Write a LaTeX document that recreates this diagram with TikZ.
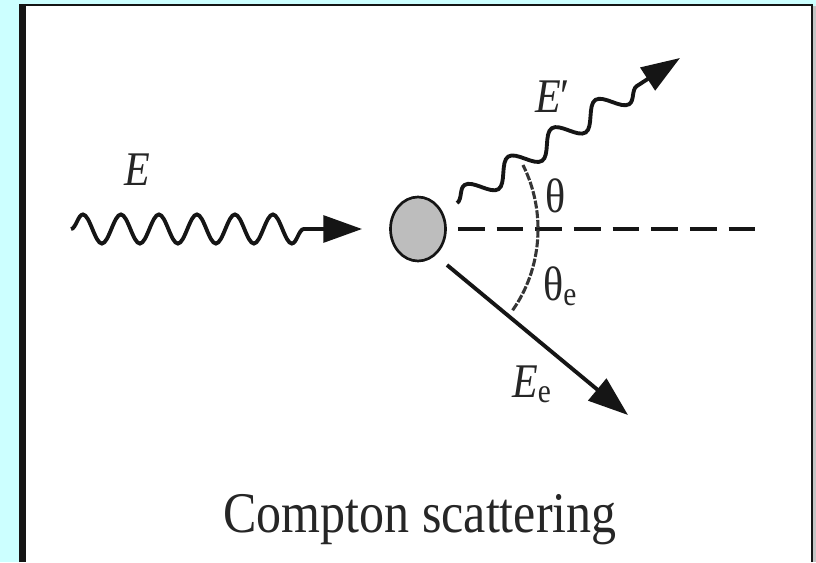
\documentclass[tikz,border=0pt]{standalone}
\usepackage{fontspec}
\setmainfont{Liberation Serif}
\usetikzlibrary{arrows.meta,positioning,shapes.geometric,decorations.pathmorphing}
\definecolor{ink}{HTML}{151515}
\definecolor{textink}{HTML}{262626}
\definecolor{sky}{HTML}{CCFFFF}
\definecolor{atomfill}{HTML}{BDBDBD}
\definecolor{arcgray}{HTML}{353535}
\definecolor{edgegray}{HTML}{C4C4C4}
\newcommand{\tallbox}[1]{\scalebox{1}[1.15]{#1}}
\tikzset{
  every node/.style={text=textink},
  atom/.style={ellipse, draw=ink, line width=2pt, fill=atomfill, minimum width=41.25pt, minimum height=48pt, inner sep=0pt},
  photon/.style={decorate, line width=2.9pt, draw=ink, -{Triangle[length=29pt,width=20pt]}},
  electron/.style={line width=2.9pt, draw=ink, -{Triangle[length=30pt,width=21pt]}},
  guide/.style={line width=2.8pt, draw=ink, dash pattern=on 20pt off 9pt},
  anglearc/.style={line width=2.3pt, draw=arcgray, dash pattern=on 6pt off 1.3pt},
  symlabel/.style={inner sep=0pt, anchor=base west, font=\fontsize{31.5}{36}\selectfont},
  caption/.style={inner sep=0pt, anchor=base, font=\fontsize{37.5}{44}\selectfont},
}
\begin{document}
\begin{tikzpicture}[x=0.75pt,y=0.75pt]
\useasboundingbox (0,0) rectangle (816,562);
% frame
\fill[sky] (0,0) rectangle (816,562);
\fill[white] (26,0) rectangle (811,556);
\fill[edgegray] (813,0) rectangle (816,556);
\draw[ink, line width=5.3pt] (22.5,0) -- (22.5,558);
\draw[ink, line width=1.5pt] (19,557) -- (813,557);
\draw[ink, line width=1.8pt] (812,0) -- (812,558);
% scattering
\node[atom] (atom) at (418,333) {};
\coordinate (gin) at (71,333);
\coordinate (gout) at (457,359);
\coordinate (gtip) at (680,504);
\coordinate (eout) at (447,297);
\coordinate (etip) at (628,147);
\coordinate (axisend) at (765,333);
\draw[photon, decoration={snake, amplitude=10.9pt, segment length=28.5pt, post length=63.75pt}, shorten >=20.3pt] (gin) -- (atom);
\draw[photon, decoration={snake, amplitude=8.25pt, segment length=39pt, post length=30.75pt}] (gout) -- (gtip);
\draw[electron] (eout) -- (etip);
\draw[guide, shorten <=8.25pt] (atom) -- (axisend);
\draw[anglearc] (atom.center) ++(-38:120 and 132) arc[start angle=-38, end angle=29, x radius=120, y radius=132];
% labels
\node[symlabel] (ein) at (124,377) {\tallbox{\textit{E}}};
\node[symlabel] (eout-lbl) at (535,450) {\tallbox{\textit{E}′}};
\node[symlabel] (theta) at (545,350) {\tallbox{θ}};
\node[symlabel] (thetae) at (543,262) {\tallbox{θ\textsubscript{e}}};
\node[symlabel] (ee) at (512,165) {\tallbox{\textit{E}\textsubscript{e}}};
\node[caption] (title) at (420,30) {\tallbox{Compton scattering}};
\end{tikzpicture}
\end{document}
